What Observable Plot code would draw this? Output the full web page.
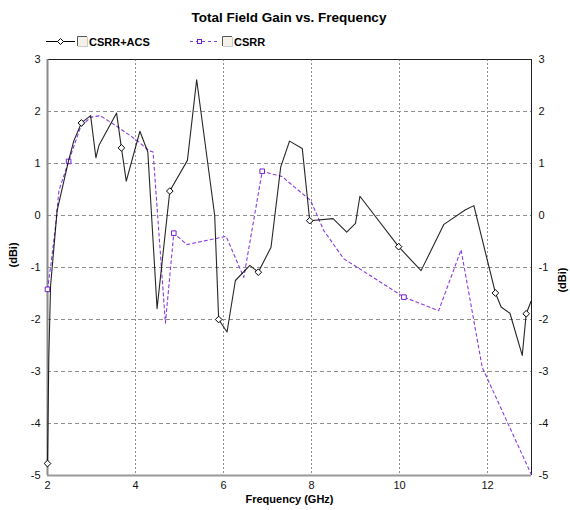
<!DOCTYPE html>
<html>
<head>
<meta charset="utf-8">
<script src="https://cdn.jsdelivr.net/npm/d3@7"></script>
<script src="https://cdn.jsdelivr.net/npm/@observablehq/plot@0.6"></script>
<style>
  html, body { margin: 0; padding: 0; background: #fff; }
  body { width: 570px; height: 510px; overflow: hidden; font-family: "Liberation Sans", Arial, sans-serif; }
  #head { display: block; }
</style>
</head>
<body>
<svg id="head" width="570" height="50" xmlns="http://www.w3.org/2000/svg"></svg>
<div id="chart"></div>
<script>
// ---- data ----
const title = "Total Field Gain vs. Frequency";
const xLabel = "Frequency (GHz)";
const yLabel = "(dBi)";
const seriesNames = ["CSRR+ACS", "CSRR"];

const acsFreq = [2.0, 2.01, 2.03, 2.07, 2.22, 2.48, 2.60, 2.77, 2.98, 3.10, 3.17, 3.57, 3.68, 3.79, 4.10, 4.28, 4.49, 4.78, 5.18, 5.39, 5.80, 5.89, 6.08, 6.27, 6.60, 6.79, 7.08, 7.30, 7.50, 7.79, 7.96, 8.49, 8.80, 9.00, 9.10, 9.98, 10.49, 11.01, 11.50, 11.69, 12.18, 12.31, 12.51, 12.79, 12.88, 12.99];
const acsGain = [-4.77, -4.10, -2.72, -1.35, 0.10, 1.06, 1.44, 1.78, 1.92, 1.11, 1.35, 1.97, 1.30, 0.66, 1.62, 1.22, -1.79, 0.47, 1.06, 2.61, 0.00, -2.00, -2.24, -1.25, -0.96, -1.09, -0.61, 0.93, 1.43, 1.29, -0.10, -0.06, -0.32, -0.15, 0.37, -0.60, -1.06, -0.17, 0.11, 0.19, -1.49, -1.76, -1.88, -2.69, -1.89, -1.65];
const acsMarkers = [2.0, 2.77, 3.68, 4.78, 5.89, 6.79, 7.96, 9.98, 12.18, 12.88];

const csrrFreq = [2.0, 2.08, 2.18, 2.26, 2.48, 2.75, 2.98, 3.20, 3.55, 4.04, 4.30, 4.40, 4.68, 4.87, 5.17, 6.06, 6.46, 6.88, 7.33, 7.75, 7.98, 8.28, 8.73, 9.27, 10.10, 10.89, 11.40, 11.88, 12.99];
const csrrGain = [-1.42, -0.93, -0.22, 0.48, 1.04, 1.70, 1.89, 1.92, 1.73, 1.44, 1.25, 1.22, -2.07, -0.34, -0.56, -0.40, -1.19, 0.85, 0.75, 0.45, 0.29, -0.29, -0.83, -1.12, -1.57, -1.83, -0.66, -2.92, -4.97];
const csrrMarkers = [2.0, 2.48, 4.87, 6.88, 10.10];

const xTicks = [2, 4, 6, 8, 10, 12];
const xGrid = [4, 6, 8, 10, 12];
const yTicks = [-5, -4, -3, -2, -1, 0, 1, 2, 3];
const yGrid = [-4, -3, -2, -1, 0, 1, 2];
const xDomain = [2, 13];
const yDomain = [-5, 3];

// ---- styles ----
const acsColor = "#000000";
const csrrColor = "#8a3be0";
const csrrMarkColor = "#7020d0";
const gridColor = "#8f8f8f";
const fmt = d => String(d);

const acs = acsFreq.map((f, i) => ({f, g: acsGain[i]}));
const csrr = csrrFreq.map((f, i) => ({f, g: csrrGain[i]}));
const acsM = acs.filter(d => acsMarkers.includes(d.f));
const csrrM = csrr.filter(d => csrrMarkers.includes(d.f));

// ---- header: title + legend ----
const NS = "http://www.w3.org/2000/svg";
const head = document.getElementById("head");
function el(tag, attrs, text) {
  const e = document.createElementNS(NS, tag);
  for (const k in attrs) e.setAttribute(k, attrs[k]);
  if (text != null) e.textContent = text;
  head.appendChild(e);
  return e;
}
el("text", {x: 289, y: 21.5, "text-anchor": "middle", "font-size": 13.5, "font-weight": "bold", fill: "#000", "font-family": "Liberation Sans, Arial, sans-serif"}, title);
function checkbox(x, y) {
  el("rect", {x: x, y: y, width: 10, height: 10, fill: "#f3f1e8"});
  el("path", {d: `M${x + 0.5},${y + 10} V${y + 0.5} H${x + 10}`, stroke: "#555", fill: "none", "stroke-width": 1});
  el("path", {d: `M${x + 10.5},${y + 1} V${y + 10.5} H${x + 1}`, stroke: "#ccc", fill: "none", "stroke-width": 1});
}
// series 1 legend
el("line", {x1: 46, x2: 75, y1: 41.5, y2: 41.5, stroke: acsColor, "stroke-width": 1});
el("path", {d: "M60.5,38.5 L63.5,41.5 L60.5,44.5 L57.5,41.5 Z", fill: "#fff", stroke: acsColor, "stroke-width": 1});
checkbox(77, 36);
el("text", {x: 89, y: 45.5, "font-size": 11, "font-weight": "bold", fill: "#000", "font-family": "Liberation Sans, Arial, sans-serif"}, seriesNames[0]);
// series 2 legend
el("line", {x1: 190, x2: 219, y1: 41.5, y2: 41.5, stroke: csrrColor, "stroke-width": 1, "stroke-dasharray": "3,3"});
el("rect", {x: 197.5, y: 39.5, width: 4, height: 4, fill: "#fff", stroke: csrrMarkColor, "stroke-width": 1});
checkbox(222, 36);
el("text", {x: 234, y: 45.5, "font-size": 11, "font-weight": "bold", fill: "#000", "font-family": "Liberation Sans, Arial, sans-serif"}, seriesNames[1]);

// ---- chart ----
const chart = Plot.plot({
  width: 570,
  height: 460,
  marginTop: 9,
  marginBottom: 35,
  marginLeft: 47,
  marginRight: 39,
  style: {fontFamily: "Liberation Sans, Arial, sans-serif", fontSize: "11px", color: "#111", background: "#fff"},
  x: {domain: xDomain},
  y: {domain: yDomain},
  marks: [
    Plot.gridY(yGrid, {stroke: gridColor, strokeOpacity: 1, strokeDasharray: "4,3"}),
    Plot.gridX(xGrid, {stroke: gridColor, strokeOpacity: 1, strokeDasharray: "2,2"}),
    Plot.axisX(xTicks, {tickSize: 0, tickPadding: 6, tickFormat: fmt, label: null}),
    Plot.axisY(yTicks, {anchor: "left", tickSize: 0, tickPadding: 7, tickFormat: fmt, label: null}),
    Plot.axisY(yTicks, {anchor: "right", tickSize: 0, tickPadding: 7, tickFormat: fmt, label: null}),
    Plot.ruleY([yDomain[1]], {stroke: "#222", strokeWidth: 1}),
    Plot.ruleX([xDomain[1]], {stroke: "#222", strokeWidth: 1}),
    Plot.ruleX([xDomain[0]], {stroke: "#8a8a8a", strokeWidth: 2}),
    Plot.ruleY([yDomain[0]], {stroke: "#9a9a9a", strokeWidth: 2}),
    Plot.line(csrr, {x: "f", y: "g", stroke: csrrColor, strokeWidth: 1.1, strokeDasharray: "3,3"}),
    Plot.dot(csrrM, {x: "f", y: "g", symbol: "square", r: 2.6, fill: "#fff", stroke: csrrMarkColor, strokeWidth: 1}),
    Plot.line(acs, {x: "f", y: "g", stroke: acsColor, strokeWidth: 1.1, strokeOpacity: 0.85}),
    Plot.dot(acsM, {x: "f", y: "g", symbol: "diamond2", r: 3, fill: "#fff", stroke: acsColor, strokeWidth: 1}),
    Plot.text([xLabel], {frameAnchor: "bottom", dy: 27, fontWeight: "bold", fontSize: 11, fill: "#000"}),
    Plot.text([yLabel], {frameAnchor: "left", dx: -34, rotate: -90, fontWeight: "bold", fontSize: 11, fill: "#000"}),
    Plot.text([yLabel], {frameAnchor: "right", dx: 31, rotate: -90, fontWeight: "bold", fontSize: 11, fill: "#000"})
  ]
});
document.getElementById("chart").appendChild(chart);
</script>
</body>
</html>
